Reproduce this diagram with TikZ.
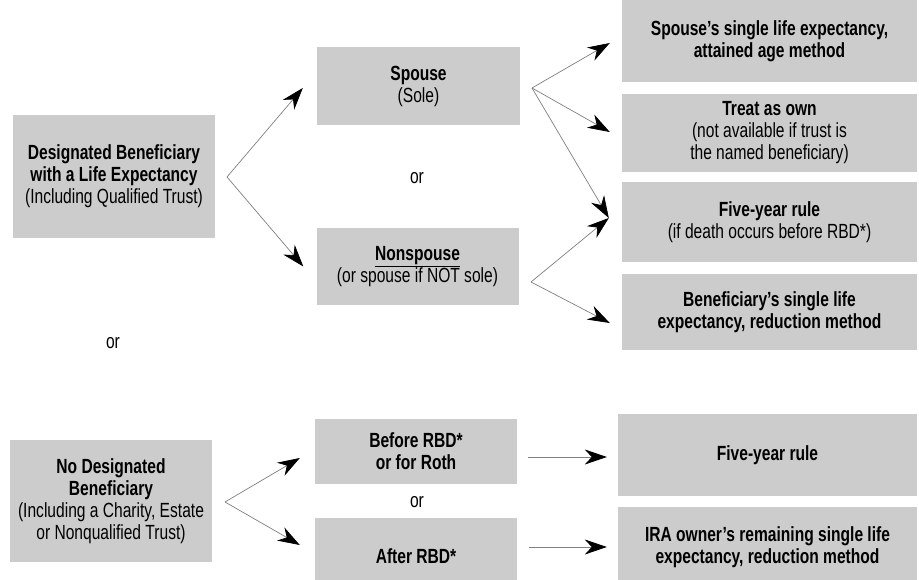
\documentclass[tikz,border=0pt]{standalone}
\usepackage{fontspec}
\setmainfont{Liberation Sans}[FakeStretch=0.76]
\usetikzlibrary{arrows.meta}
\definecolor{boxgray}{gray}{0.8}
\definecolor{linegray}{gray}{0.5}
\tikzset{
  x=1pt, y=-1pt,
  every node/.style={font=\fontsize{20.5}{22}\selectfont, text=black},
  gbox/.style={fill=boxgray, draw=none, inner sep=0pt, align=center},
  ortext/.style={inner sep=0pt},
  bigtip/.tip={Stealth[length=22pt,width=15pt,inset=7pt,color=black,fill=black]},
  fan/.style={draw=linegray, line width=0.7pt, -bigtip},
  harrow/.style={draw=linegray, line width=0.7pt, -bigtip},
}
\begin{document}
\begin{tikzpicture}
\fill[white] (0,0) rectangle (919,580);
\useasboundingbox (0,0) rectangle (919,580);
% left column
\node[gbox, minimum width=202pt, minimum height=123pt] (des) at (114,176.5)
  {\textbf{Designated Beneficiary}\\\textbf{with a Life Expectancy}\\(Including Qualified Trust)};
\node[gbox, minimum width=202pt, minimum height=122pt] (nodes) at (111,501)
  {\textbf{No Designated}\\\textbf{Beneficiary}\\(Including a Charity, Estate\\or Nonqualified Trust)};
\node[ortext] (or2) at (113,343) {or};
% middle column
\node[gbox, minimum width=203pt, minimum height=78pt] (spouse) at (418.5,86.5)
  {\textbf{Spouse}\\(Sole)};
\node[ortext] (or1) at (417,178) {or};
\node[gbox, minimum width=202pt, minimum height=77pt] (nonsp) at (417.5,266.5)
  {\textbf{\underline{Nonspouse}}\\(or spouse if NOT sole)};
\node[gbox, minimum width=202pt, minimum height=65pt] (before) at (416,451.5)
  {\textbf{Before RBD*}\\\textbf{or for Roth}};
\node[ortext] (or3) at (417,502) {or};
\node[gbox, minimum width=202pt, minimum height=76pt] (after) at (416,556)
  {\textbf{After RBD*}};
% right column
\node[gbox, minimum width=295pt, minimum height=82pt] (r1) at (769.5,41)
  {\textbf{Spouse’s single life expectancy,}\\\textbf{attained age method}};
\node[gbox, minimum width=295pt, minimum height=78pt] (r2) at (769.5,133)
  {\textbf{Treat as own}\\(not available if trust is\\the named beneficiary)};
\node[gbox, minimum width=295pt, minimum height=80pt] (r3) at (769.5,222.5)
  {\textbf{Five-year rule}\\(if death occurs before RBD*)};
\node[gbox, minimum width=295pt, minimum height=76pt] (r4) at (769.5,312)
  {\textbf{Beneficiary’s single life}\\\textbf{expectancy, reduction method}};
\node[gbox, minimum width=299pt, minimum height=82pt] (r5) at (767.5,455)
  {\textbf{Five-year rule}};
\node[gbox, minimum width=299pt, minimum height=80pt] (r6) at (767.5,547)
  {\textbf{IRA owner’s remaining single life}\\\textbf{expectancy, reduction method}};
% fan origins
\coordinate (f1) at (227,177);
\coordinate (f2) at (532,88);
\coordinate (f3) at (531,282);
\coordinate (f4) at (225,502);
% connectors
\draw[fan] (f1) -- ([xshift=-14pt,yshift=-1.5pt]spouse.west);
\draw[fan] (f1) -- ([xshift=-13pt]nonsp.west);
\draw[fan] (f2) -- ([xshift=-12pt,yshift=-2pt]r1.west);
\draw[fan] (f2) -- ([xshift=-12pt,yshift=1pt]r2.west);
\draw[fan] (f2) -- ([xshift=-13pt,yshift=4.5pt]r3.west);
\draw[fan] (f3) -- ([xshift=-13pt,yshift=4.5pt]r3.west);
\draw[fan] (f3) -- ([xshift=-12pt,yshift=-11pt]r4.west);
\draw[fan] (f4) -- ([xshift=-15pt,yshift=-6.5pt]before.west);
\draw[fan] (f4) -- ([xshift=-15pt,yshift=11pt]after.west);
\draw[harrow] ([xshift=11pt,yshift=-5.5pt]before.east) -- ([xshift=-11pt,yshift=-2pt]r5.west);
\draw[harrow] ([xshift=12pt,yshift=9pt]after.east) -- ([xshift=-11pt]r6.west);
\end{tikzpicture}
\end{document}
